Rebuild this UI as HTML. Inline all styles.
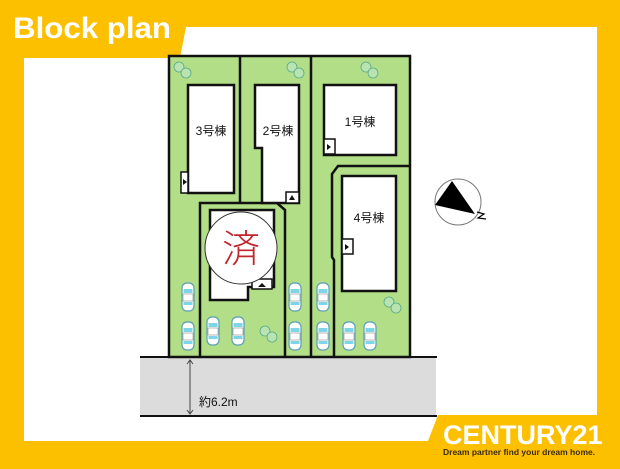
<!DOCTYPE html>
<html><head><meta charset="utf-8"><style>body{margin:0;width:620px;height:464px;overflow:hidden;background:#FDC000}</style></head><body>
<svg width="620" height="464" viewBox="0 0 620 464" xmlns="http://www.w3.org/2000/svg" font-family="Liberation Sans, Noto Sans CJK JP, sans-serif">
<defs>
<g id="car"><rect x="-6" y="-14" width="12" height="28" rx="5" fill="#fff" stroke="#5a9fb5" stroke-width="1.2"/><rect x="-4.5" y="-8" width="9" height="4" fill="#7fd5e8"/><rect x="-4.5" y="5" width="9" height="3" fill="#7fd5e8"/><rect x="-5" y="-3" width="10" height="7" fill="#fff" stroke="#888" stroke-width="0.6"/></g>
<g id="tree"><circle cx="-4" cy="-3" r="5" fill="#b9e3b0" stroke="#5a8" stroke-width="0.8"/><circle cx="3" cy="3" r="5" fill="#b9e3b0" stroke="#5a8" stroke-width="0.8"/></g>
</defs>
<path d="M24 58 L180 58 L186 27 L597 27 L597 415 L438 415 L428 441 L24 441 Z" fill="#fff"/>
<text x="13" y="38" font-size="30" font-weight="bold" fill="#fff" textLength="158" lengthAdjust="spacingAndGlyphs">Block plan</text>
<rect x="140" y="357" width="296" height="59" fill="#dcdcdc"/>
<line x1="140" y1="357" x2="437" y2="357" stroke="#111" stroke-width="2"/>
<line x1="140" y1="416" x2="437" y2="416" stroke="#111" stroke-width="2"/>
<line x1="190" y1="360" x2="190" y2="414" stroke="#444" stroke-width="1"/>
<path d="M187 364 L190 360 L193 364 M187 410 L190 414 L193 410" fill="none" stroke="#444"/>
<text x="199" y="406" font-size="12" fill="#111">約6.2m</text>
<rect x="169" y="56" width="241" height="301" fill="#b3de88" stroke="#111" stroke-width="2.5"/>
<path d="M240 56 V203 M311 56 V357 M200 357 V203 H277 L285 210 V357 M410 166 H338 L332 174 V257 L334 260 V357" fill="none" stroke="#111" stroke-width="2.5"/>
<g fill="#fff" stroke="#111" stroke-width="2.5">
<rect x="188" y="85" width="46" height="108"/>
<path d="M255 85 H299 V203 H262 V148 H255 Z"/>
<rect x="324" y="85" width="72" height="70"/>
<rect x="342" y="176" width="54" height="115"/>
<path d="M210 210 H274 V287 H248 V300 H210 Z"/>
</g>
<g fill="#fff" stroke="#111" stroke-width="1.5">
<rect x="181" y="172" width="7" height="21"/><rect x="286" y="192" width="13" height="11"/>
<rect x="324" y="139" width="11" height="15"/><rect x="342" y="239" width="11" height="15"/>
<rect x="252" y="279" width="20" height="10"/>
</g>
<g fill="#111"><path d="M183 179 L187 182 L183 185Z"/><path d="M289 200 L292 195 L295 200Z"/><path d="M327 144 L331 147 L327 150Z"/><path d="M345 244 L349 247 L345 250Z"/><path d="M258 287 L262 283 L266 287Z"/></g>
<circle cx="241" cy="248" r="36" fill="#fff" stroke="#333" stroke-width="1"/>
<text x="241" y="262" font-size="38" font-weight="300" fill="#c0262d" text-anchor="middle">済</text>
<g font-size="12" fill="#111" text-anchor="middle"><text x="211" y="135">3号棟</text><text x="278" y="135">2号棟</text><text x="360" y="126">1号棟</text><text x="369" y="222">4号棟</text></g>
<use href="#tree" x="183" y="70"/><use href="#tree" x="296" y="70"/><use href="#tree" x="370" y="70"/><use href="#tree" x="393" y="305"/><use href="#tree" x="269" y="334"/>
<use href="#car" x="188" y="297"/><use href="#car" x="188" y="336"/><use href="#car" x="213" y="331"/><use href="#car" x="238" y="331"/>
<use href="#car" x="295" y="297"/><use href="#car" x="295" y="336"/><use href="#car" x="323" y="297"/><use href="#car" x="323" y="336"/><use href="#car" x="349" y="336"/><use href="#car" x="370" y="336"/>
<circle cx="458" cy="202" r="23" fill="#fff" stroke="#777" stroke-width="1"/>
<path d="M452 181 L435 205 L475 214 Z" fill="#000"/>
<path d="M477 212 L484 214 L478 218 L486 219" fill="none" stroke="#000" stroke-width="1.2"/>
<text x="443" y="444" font-size="27" font-weight="bold" fill="#fff">CENTURY21</text>
<text x="443" y="455" font-size="8.5" font-weight="bold" fill="#3a2a10">Dream partner find your dream home.</text>
</svg>
</body></html>
